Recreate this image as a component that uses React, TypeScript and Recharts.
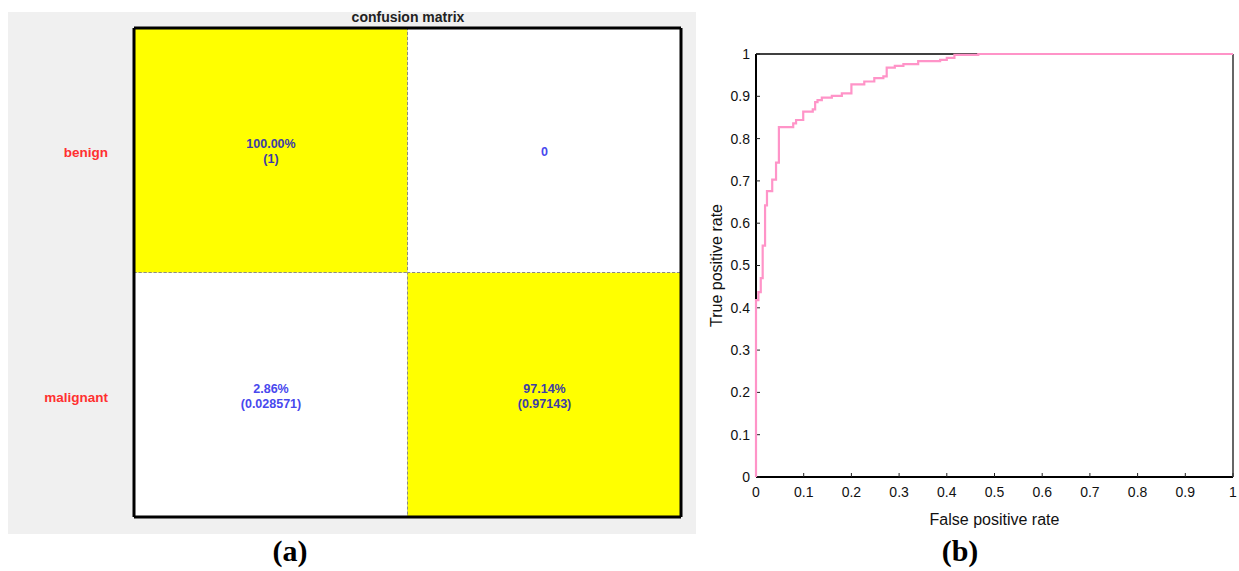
import React from 'react';
import {
  BarChart, Bar, Cell, LabelList, XAxis, YAxis, LineChart, Line, Label,
} from 'recharts';

// ---------- Confusion matrix data ----------
const matrixRows = ['benign', 'malignant'];
const matrixCols = ['benign', 'malignant'];
// rows = actual, cols = predicted
const matrixValues = [
  [1, 0],
  [0.028571, 0.97143],
];
const matrixPercent = [
  ['100.00%', ''],
  ['2.86%', '97.14%'],
];
const matrixCountText = [
  ['(1)', '0'],
  ['(0.028571)', '(0.97143)'],
];

// ---------- ROC data ----------
const fpr = [0, 0, 0.005, 0.01, 0.014, 0.019, 0.023, 0.034, 0.042, 0.048, 0.078, 0.084, 0.099, 0.119, 0.124, 0.129, 0.138, 0.159, 0.18, 0.2, 0.227, 0.248, 0.267, 0.274, 0.291, 0.309, 0.34, 0.386, 0.4, 0.416, 0.466, 1];
const tpr = [0, 0.418, 0.437, 0.47, 0.547, 0.642, 0.676, 0.703, 0.743, 0.827, 0.836, 0.844, 0.864, 0.869, 0.886, 0.891, 0.897, 0.901, 0.907, 0.928, 0.935, 0.943, 0.947, 0.968, 0.972, 0.976, 0.983, 0.986, 0.991, 0.998, 1, 1];
const rocTicks = [0, 0.1, 0.2, 0.3, 0.4, 0.5, 0.6, 0.7, 0.8, 0.9, 1];

const matrixData = matrixCols.map((c, ci) => ({
  col: c,
  idx: ci,
  // stacked: bottom bar = last row, top bar = first row
  [matrixRows[1]]: 1,
  [matrixRows[0]]: 1,
}));

const rocData = fpr.map((x, i) => ({ fpr: x, tpr: tpr[i] }));

const SANS = '"Liberation Sans", Arial, Helvetica, sans-serif';
const SERIF = '"Liberation Serif", "Times New Roman", serif';

const makeCellLabel = (rowIdx: number) => (props: any) => {
  const { x, y, width, height, index } = props;
  const colIdx = index;
  const diag = rowIdx === colIdx;
  const fill = diag ? '#3d3da6' : '#4848ee';
  const cx = x + width / 2;
  const cy = y + height / 2;
  const pct = matrixPercent[rowIdx][colIdx];
  const cnt = matrixCountText[rowIdx][colIdx];
  if (!pct) {
    return (
      <text x={cx} y={cy + 2} textAnchor="middle" dominantBaseline="central" fill={fill}
        style={{ fontFamily: SANS, fontSize: 12.5, fontWeight: 700 }}>{cnt}</text>
    );
  }
  return (
    <g>
      <text x={cx} y={cy - 6} textAnchor="middle" dominantBaseline="central" fill={fill}
        style={{ fontFamily: SANS, fontSize: 12.5, fontWeight: 700 }}>{pct}</text>
      <text x={cx} y={cy + 9} textAnchor="middle" dominantBaseline="central" fill={fill}
        style={{ fontFamily: SANS, fontSize: 12.5, fontWeight: 700 }}>{cnt}</text>
    </g>
  );
};

const cellFill = (rowIdx: number, colIdx: number) =>
  rowIdx === colIdx && matrixValues[rowIdx][colIdx] > 0 ? '#ffff00' : '#ffffff';

export default function App() {
  return (
    <div style={{ position: 'absolute', left: 0, top: 0, width: 1239, height: 571, background: '#fff' }}>
      {/* panel (a) background */}
      <div style={{ position: 'absolute', left: 8, top: 12, width: 688, height: 522, background: '#f0f0f0' }} />
      <div style={{
        position: 'absolute', left: 308, top: 9, width: 200, textAlign: 'center',
        fontFamily: SANS, fontWeight: 700, fontSize: 14, lineHeight: '16px', color: '#222',
      }}>confusion matrix</div>

      <div style={{ position: 'absolute', left: 0, top: 0 }}>
        <BarChart width={700} height={571} data={matrixData}
          margin={{ top: 27, right: 18, bottom: 53, left: 0 }}
          barCategoryGap={0} barGap={0}>
          <XAxis dataKey="col" type="category" height={1} tick={false} tickLine={false}
            axisLine={{ stroke: '#000', strokeWidth: 3 }} />
          <XAxis xAxisId="top" orientation="top" type="number" domain={[0, 1]} height={1}
            tick={false} tickLine={false} axisLine={{ stroke: '#000', strokeWidth: 3 }} />
          <YAxis type="number" domain={[0, 2]} ticks={[0.5, 1.5]} width={134}
            tickFormatter={(v: number) => (v > 1 ? matrixRows[0] : matrixRows[1])}
            tickLine={false} tickSize={0} tickMargin={26}
            tick={{ fill: '#ff3030', fontSize: 13.5, fontWeight: 700, fontFamily: SANS, dy: 2 }}
            axisLine={{ stroke: '#000', strokeWidth: 3 }} />
          <YAxis yAxisId="right" orientation="right" type="number" domain={[0, 2]} width={1}
            tick={false} tickLine={false} axisLine={{ stroke: '#000', strokeWidth: 3 }} />
          <Bar dataKey={matrixRows[1]} stackId="m" isAnimationActive={false}
            stroke="#8a8a8a" strokeWidth={1} strokeDasharray="3 2">
            {matrixData.map((d, ci) => <Cell key={ci} fill={cellFill(1, ci)} />)}
            <LabelList dataKey={matrixRows[1]} content={makeCellLabel(1)} />
          </Bar>
          <Bar dataKey={matrixRows[0]} stackId="m" isAnimationActive={false}
            stroke="#8a8a8a" strokeWidth={1} strokeDasharray="3 2">
            {matrixData.map((d, ci) => <Cell key={ci} fill={cellFill(0, ci)} />)}
            <LabelList dataKey={matrixRows[0]} content={makeCellLabel(0)} />
          </Bar>
        </BarChart>
      </div>

      <div style={{
        position: 'absolute', left: 240, top: 533, width: 100, textAlign: 'center',
        fontFamily: SERIF, fontWeight: 700, fontSize: 30, lineHeight: '36px', color: '#000',
      }}>(a)</div>

      {/* panel (b) ROC */}
      <div style={{ position: 'absolute', left: 700, top: 0 }}>
        <LineChart width={539} height={571} data={rocData}
          margin={{ top: 53, right: 5, bottom: 44, left: 6 }}>
          <XAxis dataKey="fpr" type="number" domain={[0, 1]} ticks={rocTicks} height={50}
            interval={0} tickSize={-4} tickMargin={14} stroke="#000"
            tick={{ fill: '#111', fontSize: 14, fontFamily: SANS }}
            axisLine={{ stroke: '#000', strokeWidth: 2 }}
            tickLine={{ stroke: '#222', strokeWidth: 1 }}>
            <Label value="False positive rate" position="insideBottom" offset={2}
              style={{ fontFamily: SANS, fontSize: 16, fill: '#111' }} />
          </XAxis>
          <XAxis xAxisId="top" orientation="top" type="number" domain={[0, 1]} ticks={rocTicks}
            height={1} interval={0} tickSize={-4} tick={false} stroke="#000"
            axisLine={{ stroke: '#000', strokeWidth: 1.5 }}
            tickLine={{ stroke: '#222', strokeWidth: 1 }} />
          <YAxis type="number" domain={[0, 1]} ticks={rocTicks} width={50} interval={0}
            tickSize={-4} tickMargin={10} stroke="#000"
            tick={{ fill: '#111', fontSize: 14, fontFamily: SANS }}
            axisLine={{ stroke: '#000', strokeWidth: 2 }}
            tickLine={{ stroke: '#222', strokeWidth: 1 }}>
            <Label value="True positive rate" angle={-90} position="insideLeft" offset={10}
              style={{ fontFamily: SANS, fontSize: 16, fill: '#111', textAnchor: 'middle' }} />
          </YAxis>
          <YAxis yAxisId="right" orientation="right" type="number" domain={[0, 1]} ticks={rocTicks}
            width={1} interval={0} tickSize={-4} tick={false} stroke="#000"
            axisLine={{ stroke: '#333', strokeWidth: 1.5 }}
            tickLine={{ stroke: '#222', strokeWidth: 1 }} />
          <Line type="stepAfter" dataKey="tpr" stroke="#ff94c8" strokeWidth={2.2}
            dot={false} isAnimationActive={false} zIndex={1000} />
        </LineChart>
      </div>

      <div style={{
        position: 'absolute', left: 910, top: 533, width: 100, textAlign: 'center',
        fontFamily: SERIF, fontWeight: 700, fontSize: 30, lineHeight: '36px', color: '#000',
      }}>(b)</div>
    </div>
  );
}
